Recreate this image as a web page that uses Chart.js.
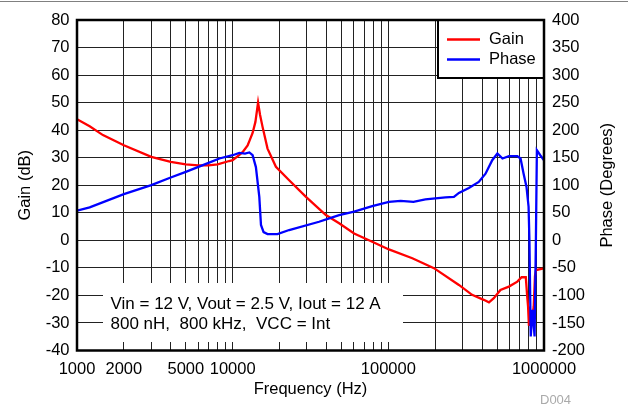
<!DOCTYPE html>
<html>
<head>
<meta charset="utf-8">
<title>Loop response</title>
<script src="https://cdn.jsdelivr.net/npm/chart.js@4.4.1/dist/chart.umd.min.js"></script>
<style>
  html, body { margin: 0; padding: 0; background: #fff; }
  #wrap { width: 628px; height: 408px; }
</style>
</head>
<body>
<div id="wrap"><canvas id="bode" width="628" height="408"></canvas></div>
<script>
const FONT = '"Liberation Sans", Arial, Helvetica, sans-serif';

// loop gain, dB
const gainFreq = [1000, 1206, 1468, 2000, 3000, 4000, 5000, 6000, 7000, 8000, 9500, 10000,
  11040, 11580, 12480, 12800, 13430, 14000, 14560, 15000, 15560, 16750, 18960, 23060, 29570,
  39700, 48300, 60300, 78800, 100900, 142600, 196400, 284000, 345000, 410000, 443000, 476000,
  525000, 595000, 674000, 718000, 764000, 780000, 790000, 800000, 815000, 835000, 859000,
  875000, 889000, 1000000];
const gainDb = [44, 41.4, 38.2, 34.5, 30.3, 28.5, 27.6, 27.2, 27.2, 27.6, 28.8, 29.1,
  31.0, 32.0, 34.5, 36.0, 39.0, 43.0, 50.0, 45.5, 41.2, 33.3, 26.7, 21.8, 15.8,
  9.2, 6.2, 2.5, -0.5, -3.3, -6.5, -10.1, -16.2, -19.8, -21.6, -22.5, -21.0,
  -18.0, -16.8, -15.0, -13.4, -13.4, -20.4, -24, -31, -28, -29, -24,
  -13, -10.8, -10.2];

// loop phase, degrees
const phaseFreq = [1000, 1206, 2000, 3000, 4000, 5000, 7000, 8220, 10000, 11040, 12000, 12800,
  13430, 14100, 14830, 15200, 15800, 16750, 19400, 23060, 35900, 41700, 48300, 60300, 78800,
  100900, 120000, 145000, 173000, 233000, 263800, 284000, 329000, 381000, 421000, 465000,
  502000, 541000, 595000, 674000, 707000, 739000, 772000, 796000, 806000, 822000, 845000,
  870000, 887000, 900000, 946000, 1000000];
const phaseDeg = [54, 59.8, 83.9, 100.2, 114, 124.3, 140.6, 148.6, 154.5, 158.7, 157.5, 159.5,
  154.5, 133, 79, 28, 15, 11.4, 11.4, 18.7, 33.7, 40, 45.8, 52, 62,
  70, 71.8, 70, 74.3, 77.8, 79, 86, 95, 106, 121, 145.5,
  157.6, 148.6, 152.7, 153, 148.6, 121.4, 97, 61, 0.6, -174.6, -126,
  -174.6, 0.6, 163.6, 154.5, 145.5];

const freqTickLabels = [1000, 2000, 5000, 10000, 100000, 1000000];
const freqDecades = [1000, 10000, 100000];
const gainRange = [-40, 80];
const phaseRange = [-200, 400];
const noteLines = ['Vin = 12 V, Vout = 2.5 V, Iout = 12 A', '800 nH,  800 kHz,  VCC = Int'];

const toPoints = (xs, ys) => xs.map((x, i) => ({ x, y: ys[i] }));

// log grid: every 1..9 step inside each decade
function logGrid() {
  const vals = [];
  freqDecades.forEach((d) => { for (let m = 1; m <= 9; m++) vals.push(m * d); });
  vals.push(1000000);
  return vals;
}

const decorations = {
  id: 'decorations',
  beforeDraw(chart) {
    const ctx = chart.ctx;
    ctx.save();
    ctx.fillStyle = '#fff';
    ctx.fillRect(0, 0, chart.width, chart.height);
    ctx.strokeStyle = '#808080';
    ctx.lineWidth = 1;
    ctx.beginPath();
    ctx.moveTo(0, 1.5);
    ctx.lineTo(chart.width, 1.5);
    ctx.stroke();
    ctx.restore();
  },
  afterDatasetsDraw(chart) {
    const ctx = chart.ctx;
    const a = chart.chartArea;
    ctx.save();

    // operating conditions note
    ctx.fillStyle = '#fff';
    ctx.fillRect(103, 283, 300, 59);
    ctx.fillStyle = '#000';
    ctx.font = '17px ' + FONT;
    ctx.textAlign = 'left';
    ctx.textBaseline = 'alphabetic';
    ctx.fillText(noteLines[0], 110.5, 309);
    ctx.fillText(noteLines[1], 110.5, 328.5);

    // legend box
    ctx.fillStyle = '#fff';
    ctx.fillRect(438, a.top, a.right - 438, 78 - a.top);
    ctx.strokeStyle = '#000';
    ctx.lineWidth = 2;
    ctx.strokeRect(438, a.top, a.right - 438, 78 - a.top);
    const items = [['Gain', '#ff0000', 39.5], ['Phase', '#0000ff', 59.5]];
    ctx.font = '16.5px ' + FONT;
    ctx.textBaseline = 'middle';
    items.forEach(([label, color, y]) => {
      ctx.strokeStyle = color;
      ctx.lineWidth = 2.5;
      ctx.beginPath();
      ctx.moveTo(447, y);
      ctx.lineTo(480, y);
      ctx.stroke();
      ctx.fillStyle = '#000';
      ctx.fillText(label, 489, y);
    });

    // plot frame
    ctx.strokeStyle = '#000';
    ctx.lineWidth = 2.5;
    ctx.strokeRect(a.left, a.top, a.right - a.left, a.bottom - a.top);

    // axis titles
    const midY = (a.top + a.bottom) / 2;
    ctx.fillStyle = '#000';
    ctx.font = '16.5px ' + FONT;
    ctx.textAlign = 'center';
    ctx.textBaseline = 'middle';
    ctx.fillText('Frequency (Hz)', (a.left + a.right) / 2, 389);
    [['Gain (dB)', 25], ['Phase (Degrees)', 607]].forEach(([t, x]) => {
      ctx.save();
      ctx.translate(x, midY);
      ctx.rotate(-Math.PI / 2);
      ctx.fillText(t, 0, 0);
      ctx.restore();
    });

    ctx.fillStyle = '#aaaaaa';
    ctx.font = '13px ' + FONT;
    ctx.textAlign = 'left';
    ctx.textBaseline = 'alphabetic';
    ctx.fillText('D004', 540, 404);
    ctx.restore();
  },
};

const tickFont = { family: FONT, size: 16.5 };

new Chart(document.getElementById('bode'), {
  type: 'line',
  data: {
    datasets: [
      {
        label: 'Gain',
        data: toPoints(gainFreq, gainDb),
        yAxisID: 'y',
        borderColor: '#ff0000',
        borderWidth: 2.3,
        pointRadius: 0,
        tension: 0,
        order: 2,
      },
      {
        label: 'Phase',
        data: toPoints(phaseFreq, phaseDeg),
        yAxisID: 'y1',
        borderColor: '#0000ff',
        borderWidth: 2.3,
        pointRadius: 0,
        tension: 0,
        order: 1,
      },
    ],
  },
  options: {
    responsive: false,
    animation: false,
    events: [],
    layout: { padding: { top: 20, left: 0, right: 0, bottom: 0 } },
    plugins: { legend: { display: false }, tooltip: { enabled: false } },
    scales: {
      x: {
        type: 'logarithmic',
        min: 1000,
        max: 1000000,
        afterBuildTicks: (scale) => { scale.ticks = logGrid().map((v) => ({ value: v })); },
        afterFit: (scale) => { scale.height = 57.5; },
        grid: { color: '#222', lineWidth: 1, drawTicks: false },
        border: { display: false },
        ticks: {
          autoSkip: false,
          maxRotation: 0,
          minRotation: 0,
          padding: 9.5,
          color: '#000',
          font: tickFont,
          callback: (v) => (freqTickLabels.includes(v) ? String(v) : ''),
        },
      },
      y: {
        position: 'left',
        min: gainRange[0],
        max: gainRange[1],
        afterFit: (scale) => { scale.width = 77; },
        grid: { color: '#222', lineWidth: 1, drawTicks: false },
        border: { display: false },
        ticks: { stepSize: 10, padding: 7.5, color: '#000', font: tickFont },
      },
      y1: {
        position: 'right',
        min: phaseRange[0],
        max: phaseRange[1],
        afterFit: (scale) => { scale.width = 84; },
        grid: { display: false, drawTicks: false },
        border: { display: false },
        ticks: { stepSize: 50, padding: 8, color: '#000', font: tickFont },
      },
    },
  },
  plugins: [decorations],
});
</script>
</body>
</html>
